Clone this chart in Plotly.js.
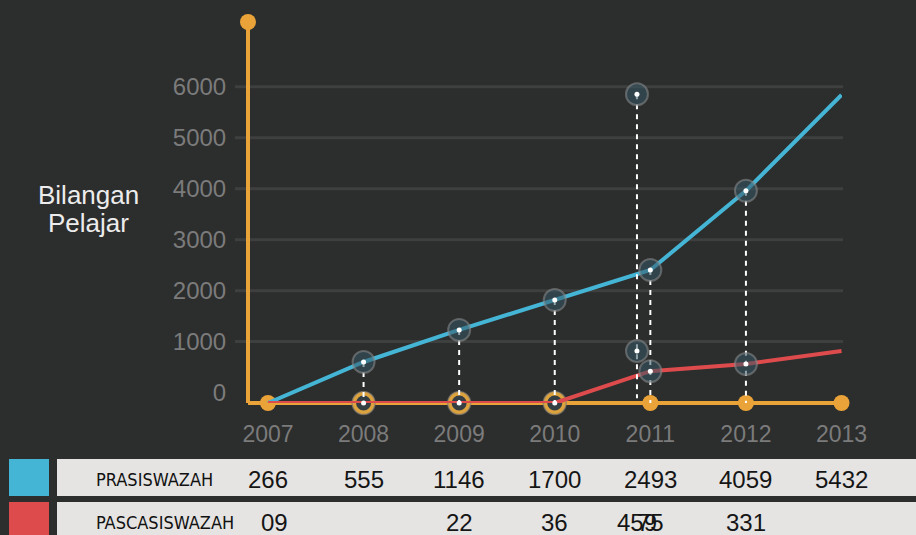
<!DOCTYPE html>
<html><head><meta charset="utf-8">
<script src="https://cdn.plot.ly/plotly-3.0.1.min.js"></script>
<style>html,body{margin:0;padding:0;background:#2c2d2d;}#chart{width:916px;height:535px;}</style>
</head><body><div id="chart"></div>
<script>
// ---- data ----
const years = [2007, 2008, 2009, 2010, 2011, 2012, 2013];
const yearLabels = ['2007', '2008', '2009', '2010', '2011', '2012', '2013'];
const yTicks = [0, 1000, 2000, 3000, 4000, 5000, 6000];
const gridValues = [1000, 2000, 3000, 4000, 5000, 6000];
const prasiswazahLine = [-205, 600, 1230, 1815, 2405, 3960, 5840];
const pascasiswazahLine = [-205, -205, -205, -205, 420, 560, 815];
const seriesNames = ['PRASISWAZAH', 'PASCASISWAZAH'];
const tableText1 = ['266', '555', '1146', '1700', '2493', '4059', '5432'];
const tableYears2 = [2007, 2009, 2010, 2010.86, 2011, 2012];
const tableText2 = ['09', '22', '36', '459', '75', '331'];
const pointX = [2008, 2009, 2010, 2011, 2012, 2011, 2012, 2010.86, 2010.86];
const pointY = [600, 1230, 1815, 2405, 3960, 420, 560, 5854, 815];
const dropX = [2008, 2009, 2010, 2010.86, 2011, 2012];
const dropTop = [600, 1230, 1815, 5854, 2405, 3960];
const dropBottom = [-205, -205, -205, -110, -205, -205];
const axisDotYears = [2007, 2011, 2012, 2013];
const ringYears = [2008, 2009, 2010];
const yTitleLines = ['Bilangan', 'Pelajar'];

// ---- style / layout constants ----
const W = 916, H = 535;
const L = 248, R = 842, T = 22, B = 403;
const X_RANGE = [2006.791, 2013.005];
const Y_RANGE = [-205, 7273];
const BASE = Y_RANGE[0];
const ORANGE = '#eaa338', BLUE = '#45b5d6', RED = '#dd4b4d';
const px2x = q => (q - L) / (R - L);
const px2y = p => (B - p) / (B - T);

const traces = [];
// orange axis dots
traces.push({
  x: [X_RANGE[0]].concat(axisDotYears),
  y: [Y_RANGE[1]].concat(axisDotYears.map(() => BASE)),
  mode: 'markers', marker: {size: 16, color: ORANGE}, cliponaxis: false, hoverinfo: 'skip'
});
// ring markers on baseline
traces.push({
  x: ringYears, y: ringYears.map(() => BASE),
  mode: 'markers', marker: {size: 19, color: '#353f43', line: {color: '#dba23d', width: 4}},
  cliponaxis: false, hoverinfo: 'skip'
});
traces.push({
  x: ringYears, y: ringYears.map(() => BASE),
  mode: 'markers', marker: {size: 23, color: 'rgba(0,0,0,0)', line: {color: 'rgba(120,120,120,0.6)', width: 1.5}},
  cliponaxis: false, hoverinfo: 'skip'
});
// series lines
traces.push({x: years, y: prasiswazahLine, name: seriesNames[0], mode: 'lines',
  line: {color: BLUE, width: 4}, cliponaxis: false});
traces.push({x: years, y: pascasiswazahLine, name: seriesNames[1], mode: 'lines',
  line: {color: RED, width: 4}, cliponaxis: false});
// dashed drop lines
const dx = [], dy = [];
dropX.forEach((x, i) => { dx.push(x, x, null); dy.push(dropTop[i], dropBottom[i], null); });
traces.push({x: dx, y: dy, mode: 'lines', line: {color: '#ffffff', width: 2, dash: '5px,5px'},
  cliponaxis: false, hoverinfo: 'skip', connectgaps: false});
// point circles
traces.push({x: pointX, y: pointY, mode: 'markers',
  marker: {size: 22, color: 'rgba(55,88,102,0.55)', line: {color: 'rgba(140,140,140,0.55)', width: 2}},
  cliponaxis: false, hoverinfo: 'skip'});
// white centers
traces.push({x: pointX.concat(ringYears), y: pointY.concat(ringYears.map(() => BASE)), mode: 'markers',
  marker: {size: 5, color: '#ffffff'}, cliponaxis: false, hoverinfo: 'skip'});

const shapes = [];
gridValues.forEach(v => shapes.push({type: 'line', xref: 'paper', yref: 'y',
  x0: px2x(235), x1: px2x(843), y0: v, y1: v, line: {color: '#3e3f3f', width: 3}, layer: 'below'}));
shapes.push({type: 'line', xref: 'paper', yref: 'paper', x0: 0, x1: 0, y0: 0, y1: 1,
  line: {color: ORANGE, width: 4}, layer: 'below'});
shapes.push({type: 'line', xref: 'paper', yref: 'paper', x0: 0, x1: 1, y0: 0, y1: 0,
  line: {color: ORANGE, width: 4}, layer: 'below'});
// table
const rows = [{top: 459, bot: 496, color: BLUE}, {top: 502, bot: 545, color: RED}];
rows.forEach(r => {
  shapes.push({type: 'rect', xref: 'paper', yref: 'paper', x0: px2x(9), x1: px2x(49),
    y0: px2y(r.top), y1: px2y(r.bot), fillcolor: r.color, line: {width: 0}, layer: 'below'});
  shapes.push({type: 'rect', xref: 'paper', yref: 'paper', x0: px2x(57), x1: px2x(920),
    y0: px2y(r.top), y1: px2y(r.bot), fillcolor: '#e5e4e3', line: {width: 0}, layer: 'below'});
});

const annotations = [];
const titleY = [195, 223];
yTitleLines.forEach((t, i) => annotations.push({text: t, xref: 'paper', yref: 'paper',
  x: px2x(88), y: px2y(titleY[i]), xanchor: 'center', yanchor: 'middle', showarrow: false,
  font: {size: 26, color: '#ececec'}}));
const rowCenters = [479, 522];
const labelFont = '"Liberation Sans Narrow", "DejaVu Sans Condensed", "Liberation Sans", sans-serif';
seriesNames.forEach((n, i) => annotations.push({text: n, xref: 'paper', yref: 'paper',
  x: px2x(94), y: px2y(rowCenters[i]), xanchor: 'left', yanchor: 'middle', showarrow: false,
  font: {family: labelFont, size: 18, color: '#111111'}}));
years.forEach((yr, i) => annotations.push({text: tableText1[i], xref: 'x', yref: 'paper',
  x: yr, y: px2y(rowCenters[0]), xanchor: 'center', yanchor: 'middle', showarrow: false,
  font: {size: 24, color: '#151515'}}));
tableYears2.forEach((yr, i) => annotations.push({text: tableText2[i], xref: 'x', yref: 'paper',
  x: yr, y: px2y(rowCenters[1]), xanchor: 'center', yanchor: 'middle', showarrow: false,
  xshift: i === 0 ? 7 : 0,
  font: {size: 24, color: '#151515'}}));

const layout = {
  width: W, height: H,
  margin: {l: L, r: W - R, t: T, b: H - B, pad: 0},
  paper_bgcolor: '#2c2d2d', plot_bgcolor: 'rgba(0,0,0,0)',
  showlegend: false,
  font: {family: '"Liberation Sans", Arial, sans-serif'},
  xaxis: {range: X_RANGE, tickmode: 'array', tickvals: years, ticktext: yearLabels,
    showgrid: false, zeroline: false, showline: false, ticks: 'outside', ticklen: 10,
    tickcolor: 'rgba(0,0,0,0)', tickfont: {size: 23, color: '#7b7b7b'}},
  yaxis: {range: Y_RANGE, tickmode: 'array', tickvals: yTicks,
    showgrid: false, zeroline: false, showline: false, ticks: 'outside', ticklen: 16,
    tickcolor: 'rgba(0,0,0,0)', tickfont: {size: 24, color: '#7b7b7b'}},
  shapes: shapes, annotations: annotations
};
Plotly.newPlot('chart', traces, layout, {displayModeBar: false, staticPlot: true});
</script>
</body></html>
